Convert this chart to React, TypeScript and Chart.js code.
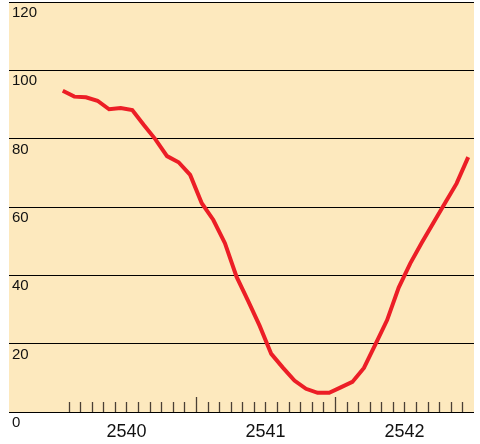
import React, { useEffect, useRef } from "react";
import { Chart, registerables } from "chart.js";

Chart.register(...registerables);

// Monthly values, Jan 2540 .. Dec 2542 (Buddhist era years)
const startYear = 2540;
const years = [2540, 2541, 2542];
const values = [
  94.0, 92.3, 92.1, 91.1, 88.6, 89.0, 88.4, 84.0, 79.8, 74.9, 73.1, 69.4,
  61.1, 56.2, 49.4, 39.6, 32.5, 25.2, 17.0, 13.0, 9.2, 6.8, 5.6, 5.6,
  7.2, 8.8, 12.9, 19.9, 26.9, 36.4, 43.5, 49.6, 55.4, 61.2, 66.9, 74.6,
];
const yTicks = [0, 20, 40, 60, 80, 100, 120];

const BG = "rgb(253,233,190)";
const LINE = "rgb(236,30,38)";

export default function App() {
  const ref = useRef<HTMLCanvasElement | null>(null);

  useEffect(() => {
    if (!ref.current) return;
    const points = values.map((v, i) => ({ x: startYear + (i + 0.5) / 12, y: v }));

    const bgPlugin = {
      id: "bgFill",
      beforeDraw(chart: any) {
        const { ctx, chartArea } = chart;
        ctx.save();
        ctx.fillStyle = BG;
        ctx.fillRect(chartArea.left, chartArea.top, chartArea.right - chartArea.left, chartArea.bottom - chartArea.top);
        ctx.restore();
      },
    };

    const monthTicks = {
      id: "monthTicks",
      beforeDatasetsDraw(chart: any) {
        const { ctx, chartArea } = chart;
        const xs = chart.scales.x;
        ctx.save();
        ctx.strokeStyle = "#4a4035";
        ctx.lineWidth = 1.3;
        const first = years[0];
        const last = years[years.length - 1] + 1;
        for (let k = 1; k < (last - first) * 12; k++) {
          const v = first + k / 12;
          const px = Math.round(xs.getPixelForValue(v)) + 0.5;
          const major = k % 12 === 0;
          const len = major ? 15 : 10;
          ctx.beginPath();
          ctx.moveTo(px, chartArea.bottom);
          ctx.lineTo(px, chartArea.bottom - len);
          ctx.stroke();
        }
        ctx.restore();
      },
    };

    const chart = new Chart(ref.current, {
      type: "line",
      data: {
        datasets: [
          {
            data: points,
            borderColor: LINE,
            borderWidth: 4,
            pointRadius: 0,
            tension: 0,
            fill: false,
          },
        ],
      },
      options: {
        animation: false,
        responsive: false,
        maintainAspectRatio: false,
        layout: { padding: { left: 9, right: 6, top: 2, bottom: 3 } },
        plugins: { legend: { display: false }, tooltip: { enabled: false } },
        scales: {
          x: {
            type: "linear",
            min: 2539.655,
            max: 2543.0,
            grid: { display: false, drawTicks: false },
            border: { display: false },
            afterBuildTicks(scale: any) {
              scale.ticks = years.map((y) => ({ value: y + 0.5 }));
            },
            afterFit(scale: any) {
              scale.paddingLeft = 0;
              scale.paddingRight = 0;
              scale.height = 29;
            },
            ticks: {
              autoSkip: false,
              maxRotation: 0,
              padding: 9,
              color: "#111",
              font: { family: "Liberation Sans, Arial, sans-serif", size: 18 },
              callback: (v: any) => String(Math.floor(Number(v))),
            },
          },
          y: {
            min: 0,
            max: 120,
            afterBuildTicks(scale: any) {
              scale.ticks = yTicks.map((v) => ({ value: v }));
            },
            afterFit(scale: any) {
              scale.paddingTop = 0;
              scale.paddingBottom = 0;
              scale.width = 0;
            },
            grid: { color: "#000", lineWidth: 1, drawTicks: false },
            border: { display: false },
            ticks: {
              mirror: true,
              padding: 3,
              labelOffset: 11,
              color: "#111",
              font: { family: "Liberation Sans, Arial, sans-serif", size: 15 },
            },
          },
        },
      },
      plugins: [bgPlugin, monthTicks],
    });
    return () => chart.destroy();
  }, []);

  return (
    <div style={{ position: "fixed", left: 0, top: 0, width: 480, height: 444, background: "#fff" }}>
      <canvas ref={ref} width={480} height={444} style={{ width: 480, height: 444, display: "block" }} />
    </div>
  );
}
